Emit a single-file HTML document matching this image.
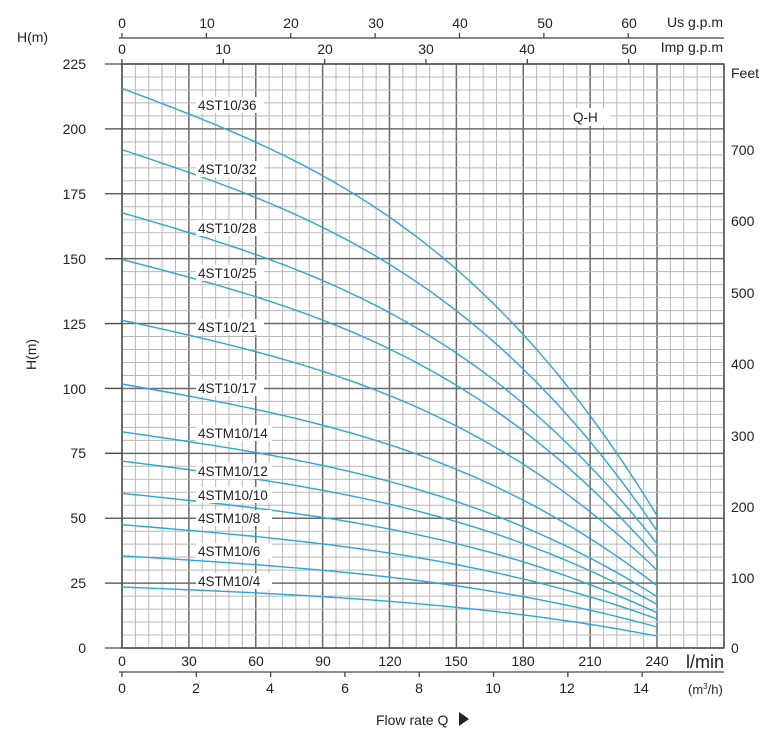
<!DOCTYPE html>
<html><head><meta charset="utf-8">
<style>
html,body{margin:0;padding:0;background:#fff;}
svg{display:block;font-family:"Liberation Sans",Arial,sans-serif;}
text{fill:#222;}
</style></head>
<body>
<svg id="s" width="773" height="731" viewBox="0 0 773 731" xmlns="http://www.w3.org/2000/svg">
<g id="grid"></g>
<rect x="122" y="64" width="602" height="584" fill="none" stroke="#555" stroke-width="1.5"/>
<g id="curves" fill="none" stroke="#2aa6dc" stroke-width="1.4"></g>
<g id="ticks" stroke="#444" stroke-width="1.3"></g>
<g font-size="13.5">
<rect x="196" y="97" width="68" height="16" fill="#fff"/><text x="198" y="110">4ST10/36</text>
<rect x="196" y="161" width="68" height="16" fill="#fff"/><text x="198" y="174">4ST10/32</text>
<rect x="196" y="220" width="68" height="16" fill="#fff"/><text x="198" y="233">4ST10/28</text>
<rect x="196" y="265" width="68" height="16" fill="#fff"/><text x="198" y="278">4ST10/25</text>
<rect x="196" y="319" width="68" height="16" fill="#fff"/><text x="198" y="332">4ST10/21</text>
<rect x="196" y="380" width="68" height="16" fill="#fff"/><text x="198" y="393">4ST10/17</text>
<rect x="196" y="425" width="76" height="16" fill="#fff"/><text x="198" y="438">4STM10/14</text>
<rect x="196" y="463" width="76" height="16" fill="#fff"/><text x="198" y="476">4STM10/12</text>
<rect x="196" y="487" width="76" height="16" fill="#fff"/><text x="198" y="500">4STM10/10</text>
<rect x="196" y="510" width="76" height="16" fill="#fff"/><text x="198" y="523">4STM10/8</text>
<rect x="196" y="543" width="76" height="16" fill="#fff"/><text x="198" y="556">4STM10/6</text>
<rect x="196" y="573" width="76" height="16" fill="#fff"/><text x="198" y="586">4STM10/4</text>
<rect x="570" y="108" width="40" height="18" fill="#fff"/><text x="573" y="122">Q-H</text>
</g>
<g font-size="14" text-anchor="end">
<text x="86" y="69">225</text><text x="86" y="134">200</text><text x="86" y="199">175</text>
<text x="86" y="264">150</text><text x="86" y="329">125</text><text x="86" y="394">100</text>
<text x="86" y="458">75</text><text x="86" y="523">50</text><text x="86" y="588">25</text><text x="86" y="653">0</text>
</g>
<text x="17" y="42" font-size="14">H(m)</text>
<text x="0" y="0" font-size="14" transform="translate(36,370) rotate(-90)">H(m)</text>
<g font-size="14">
<text x="731" y="78">Feet</text>
<text x="731" y="155">700</text><text x="731" y="226">600</text><text x="731" y="298">500</text>
<text x="731" y="369">400</text><text x="731" y="441">300</text><text x="731" y="512">200</text>
<text x="731" y="583">100</text><text x="731" y="653">0</text>
</g>
<g font-size="14" text-anchor="middle">
<text x="122" y="28">0</text><text x="207" y="28">10</text><text x="291" y="28">20</text>
<text x="376" y="28">30</text><text x="460" y="28">40</text><text x="545" y="28">50</text><text x="629" y="28">60</text>
<text x="122" y="54">0</text><text x="223" y="54">10</text><text x="325" y="54">20</text>
<text x="426" y="54">30</text><text x="527" y="54">40</text><text x="629" y="54">50</text>
</g>
<g font-size="14" text-anchor="end"><text x="723" y="27">Us g.p.m</text><text x="723" y="52">Imp g.p.m</text></g>
<g font-size="14" text-anchor="middle">
<text x="122" y="666">0</text><text x="189" y="666">30</text><text x="256" y="666">60</text>
<text x="323" y="666">90</text><text x="390" y="666">120</text><text x="456" y="666">150</text>
<text x="523" y="666">180</text><text x="590" y="666">210</text><text x="657" y="666">240</text>
<text x="122" y="693">0</text><text x="196" y="693">2</text><text x="270" y="693">4</text>
<text x="345" y="693">6</text><text x="419" y="693">8</text><text x="493" y="693">10</text>
<text x="567" y="693">12</text><text x="641" y="693">14</text>
</g>
<text x="686" y="668" font-size="18">l/min</text>
<text x="688" y="694" font-size="13">(m<tspan font-size="8" dy="-5">3</tspan><tspan dy="5">/h)</tspan></text>
<text x="376" y="725" font-size="14">Flow rate Q</text>
<polygon points="459,712 469,719 459,726" fill="#222"/>
</svg>
<script>
var NS="http://www.w3.org/2000/svg";
function L(g,x1,y1,x2,y2,c,w){var l=document.createElementNS(NS,"line");l.setAttribute("x1",x1);l.setAttribute("y1",y1);l.setAttribute("x2",x2);l.setAttribute("y2",y2);if(c)l.setAttribute("stroke",c);if(w)l.setAttribute("stroke-width",w);g.appendChild(l);}
var G=document.getElementById("grid"),T=document.getElementById("ticks"),C=document.getElementById("curves");
var x0=122,px=535/240,y0=648,py=584/225;
for(var i=0;i<=45;i++){var x=x0+i*6*px;var maj=i%5==0;L(G,x,64,x,648,maj?"#6a6a6a":"#b8b8b8",maj?1.5:1);}
for(var j=0;j<=45;j++){var y=y0-j*5*py;var maj=j%5==0;L(G,122,y,724,y,maj?"#6a6a6a":"#b8b8b8",maj?1.5:1);}
for(var j=0;j<=9;j++){var y=y0-j*25*py;L(T,105,y,122,y);}
L(T,119,38,724,38);
for(var k=0;k<=60;k+=10){var x=x0+k*3.785*px;L(T,x,33,x,38);}
for(var k=0;k<=50;k+=10){var x=x0+k*4.546*px;L(T,x,59,x,64);}
L(T,119,672,724,672);
for(var k=0;k<=14;k+=2){var x=x0+k*16.667*px;L(T,x,672,x,677);}
function f(t){return 1-0.359*t-0.404*t*t*t;}
var cs=[[215.6,51],[192,45.2],[167.7,40.2],[149.7,35],[126.3,30],[101.7,24],[83.3,19.8],[72,16.8],[59.6,13.6],[47.5,11.2],[35.5,8.1],[23.5,4.6]];
cs.forEach(function(c){var h0=c[0],fe=c[1]/h0,d="";
 for(var s=0;s<=96;s++){var t=s/96;var v=f(t)+(fe-.237)*Math.pow(t,3);var x=x0+t*240*px,y=y0-h0*v*py;d+=(s?"L":"M")+x.toFixed(1)+","+y.toFixed(1);}
 var p=document.createElementNS(NS,"path");p.setAttribute("d",d);C.appendChild(p);});
</script>
</body></html>
